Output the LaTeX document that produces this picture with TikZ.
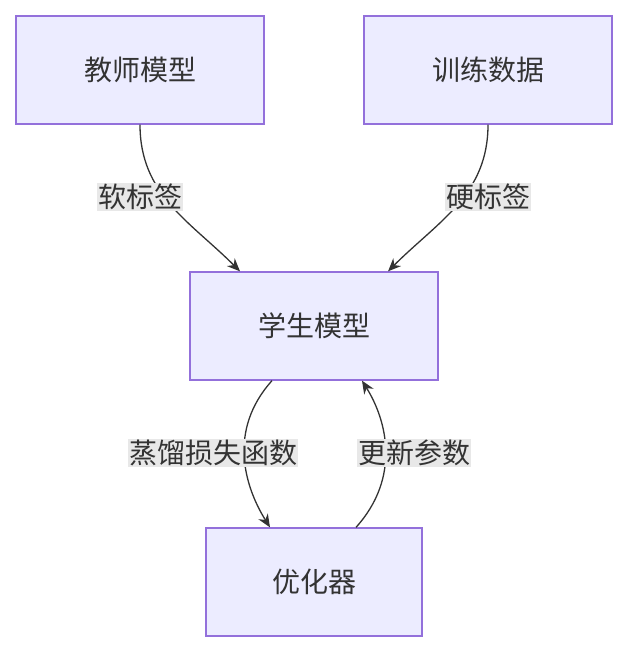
\documentclass[tikz,border=0pt]{standalone}
\usepackage{fontspec}
\newfontfamily\cjk{Noto Sans CJK SC}
\usetikzlibrary{arrows.meta,calc}
\definecolor{nfill}{HTML}{ECECFF}
\definecolor{nline}{HTML}{9370DB}
\definecolor{lbg}{HTML}{E8E8E8}
\definecolor{ln}{HTML}{333333}
\begin{document}
\begin{tikzpicture}[x=1pt,y=-1pt,
  box/.style={draw=nline,fill=nfill,line width=1.3pt,minimum width=248pt,minimum height=108pt,inner sep=0pt,font=\cjk\fontsize{28}{30}\selectfont,text=ln},
  lab/.style={fill=lbg,inner sep=1pt,font=\cjk\fontsize{28}{30}\selectfont,text=ln},
  edge/.style={draw=ln,line width=1.3pt,-{Stealth[length=13pt,width=11pt]}}]
\useasboundingbox (0,0) rectangle (628,652);
\node[box] (t) at (140,70) {教师模型};
\node[box] (d) at (488,70) {训练数据};
\node[box] (s) at (314,326) {学生模型};
\node[box,minimum width=216pt] (o) at (314,582) {优化器};
\draw[edge] (t.south) .. controls +(0,70) and +(-50,-50) .. ($(s.north)+(-74,0)$);
\draw[edge] (d.south) .. controls +(0,70) and +(50,-50) .. ($(s.north)+(74,0)$);
\draw[edge] ($(s.south)+(-42,0)$) .. controls +(-45,50) and +(-25,-40) .. ($(o.north)+(-44,0)$);
\draw[edge] ($(o.north)+(42,0)$) .. controls +(45,-50) and +(25,40) .. ($(s.south)+(48,0)$);
\node[lab] (l1) at (140,197) {软标签};
\node[lab] (l2) at (488,197) {硬标签};
\node[lab] (l3) at (213,453) {蒸馏损失函数};
\node[lab] (l4) at (414,453) {更新参数};
\end{tikzpicture}
\end{document}
